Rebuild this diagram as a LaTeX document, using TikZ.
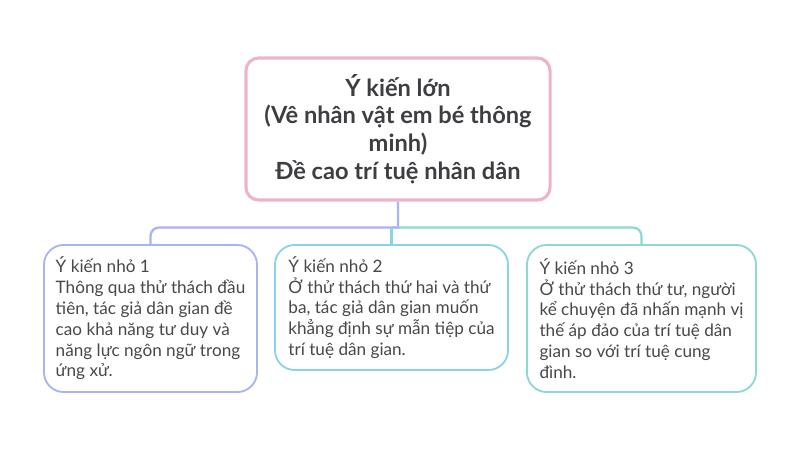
\documentclass[tikz,border=0pt]{standalone}
\usepackage{fontspec}
\setmainfont{Lato}
\usetikzlibrary{positioning}
\definecolor{pinkline}{HTML}{EDB4C9}
\definecolor{periline}{HTML}{A8B5EE}
\definecolor{skyline}{HTML}{8CD3EA}
\definecolor{tealline}{HTML}{8DD9D2}
\definecolor{inkgray}{HTML}{3E3E42}
\definecolor{softgray}{HTML}{48484C}
\tikzset{
  bigidea/.style={draw=pinkline, line width=2.2pt, rounded corners=9pt, fill=white,
    font=\bfseries\fontsize{16.8}{19.6}\selectfont, text=inkgray, align=center,
    minimum width=7.6cm, minimum height=3.55cm, inner sep=0pt},
  smallidea/.style={line width=1.3pt, rounded corners=14pt, fill=white,
    font=\fontsize{12.2}{14.8}\selectfont, text=softgray, align=left, inner sep=0pt},
  linkA/.style={draw=periline, line width=1.6pt},
  linkB/.style={draw=skyline, line width=1.6pt},
  linkC/.style={draw=tealline, line width=1.6pt}
}
\begin{document}
\begin{tikzpicture}[x=0.025cm,y=-0.025cm]
			%%%%% START %%%%%
			\useasboundingbox[fill=white] (0,0) rectangle (800,450);
			
			\node[bigidea] (big) at (398,129) {Ý kiến lớn\\(Vê nhân vật em bé thông\\minh)\\Đề cao trí tuệ nhân dân};
			
			\node[smallidea, draw=periline, minimum width=5.325cm, minimum height=3.675cm] (ki1) at (150.5,318.5)
			  {Ý kiến nhỏ 1\\Thông qua thử thách đầu\\tiên, tác giả dân gian đề\\cao khả năng tư duy và\\năng lực ngôn ngữ trong\\ứng xử.};
			\node[smallidea, draw=skyline, minimum width=5.825cm, minimum height=3.125cm] (ki2) at (391.5,307.5)
			  {Ý kiến nhỏ 2\\Ở thử thách thứ hai và thứ\\ba, tác giả dân gian muốn\\khẳng định sự mẫn tiệp của\\trí tuệ dân gian.};
			\node[smallidea, draw=tealline, minimum width=5.725cm, minimum height=3.675cm] (ki3) at (641.5,318.5)
			  {Ý kiến nhỏ 3\\Ở thử thách thứ tư, người\\kể chuyện đã nhấn mạnh vị\\thế áp đảo của trí tuệ dân\\gian so với trí tuệ cung\\đình.};
			
			\coordinate (hub) at ([yshift=-0.65cm]big.south);
			\coordinate (fork) at (ki2.north |- hub);
			
			\draw[linkC, rounded corners=6pt] (fork) -| (ki3.north);
			\draw[linkA] (big.south) -- (hub) [rounded corners=6pt] -| (ki1.north);
			\draw[linkB] (fork) -- (ki2.north);
			
			%%%%% END %%%%%
\end{tikzpicture}
\end{document}
